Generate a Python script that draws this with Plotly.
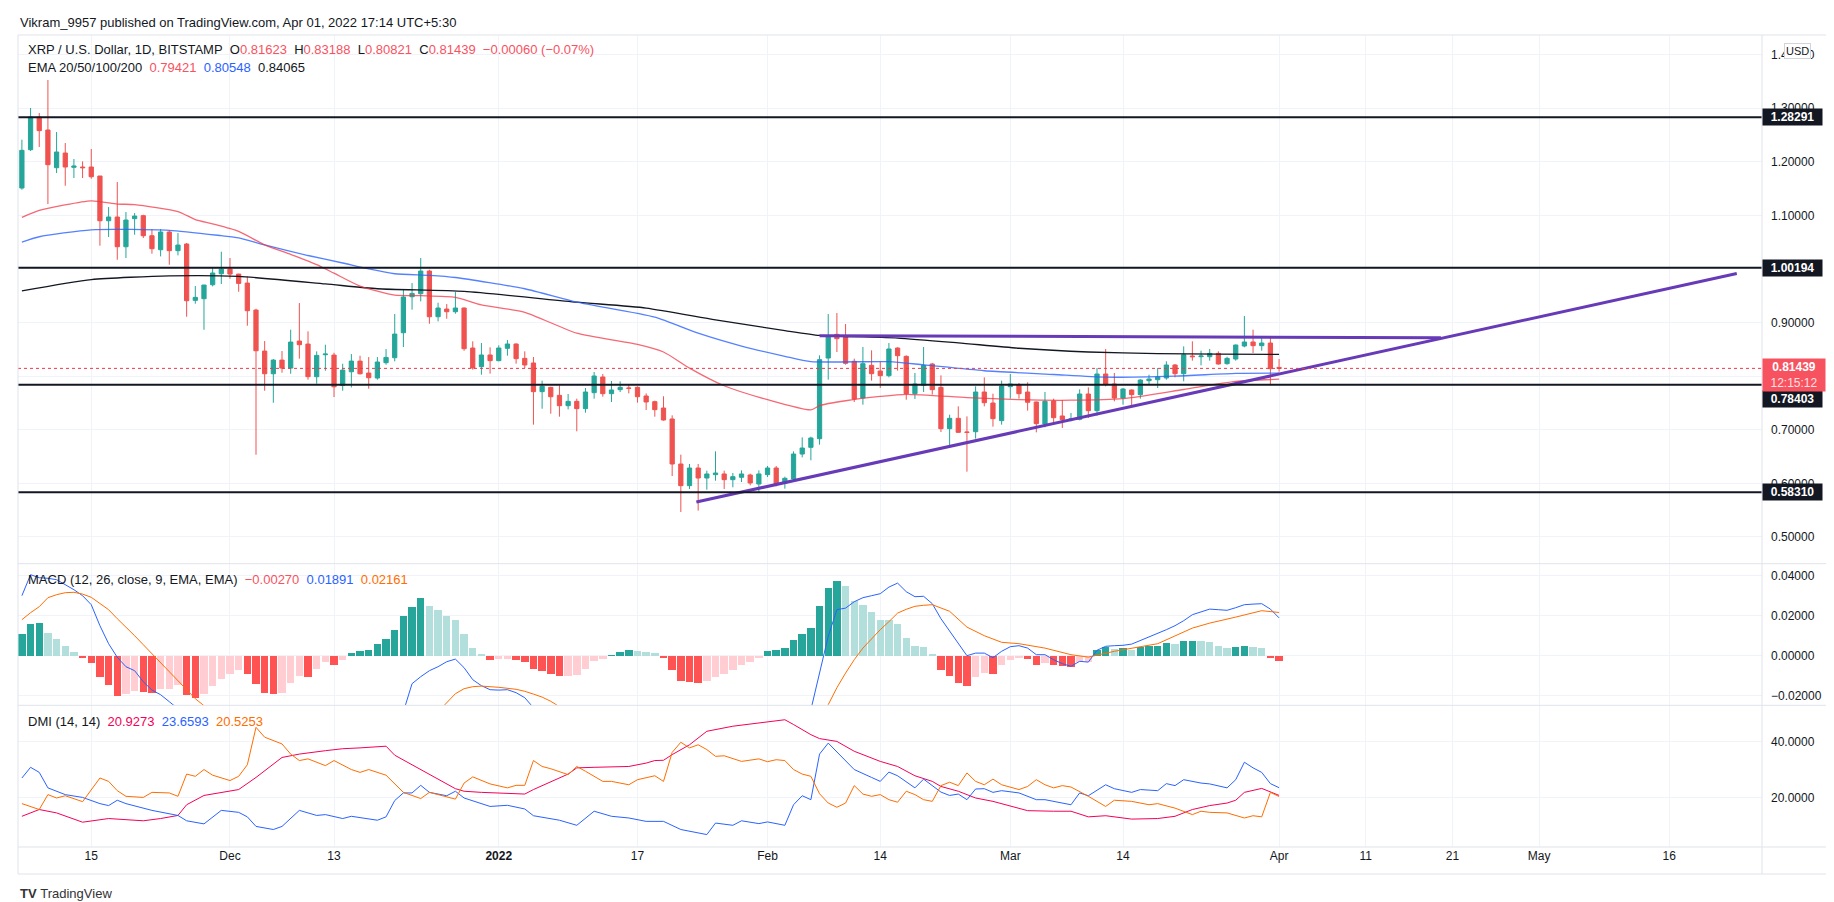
"""XRP / USD daily candles with EMA, MACD and DMI panes, styled like a TradingView snapshot."""

import pandas as pd
import plotly.graph_objects as go
from plotly.subplots import make_subplots

# ---- daily candles, 2021-11-07 .. 2022-04-01 ----
first_day = "2021-11-07"

opens = [
    1.1509, 1.2224, 1.2834, 1.2591, 1.1888, 1.2162, 1.1895, 1.1901, 1.1901, 1.1733,
    1.0899, 1.0968, 1.0414, 1.0937, 1.0993, 1.0619, 1.0358, 1.0688, 1.0340, 1.0464,
    0.9413, 0.9444, 0.9705, 0.9910, 0.9997, 0.9904, 0.9736, 0.9232, 0.8467, 0.8044,
    0.8299, 0.8150, 0.8654, 0.8598, 0.7989, 0.8399, 0.8392, 0.7826, 0.8081, 0.8280,
    0.8057, 0.7964, 0.8250, 0.8343, 0.8809, 0.9481, 0.9537, 0.9960, 0.9108, 0.9251,
    0.9201, 0.9270, 0.8524, 0.8176, 0.8394, 0.8288, 0.8518, 0.8599, 0.8331, 0.8245,
    0.7710, 0.7790, 0.7641, 0.7448, 0.7529, 0.7393, 0.7691, 0.7983, 0.7672, 0.7747,
    0.7778, 0.7790, 0.7629, 0.7523, 0.7405, 0.7200, 0.6360, 0.5956, 0.6285, 0.6099,
    0.6161, 0.6174, 0.6068, 0.6112, 0.6155, 0.5987, 0.6161, 0.6285, 0.5999, 0.6080,
    0.6546, 0.6671, 0.6832, 0.8337, 0.8779, 0.8729, 0.8276, 0.7592, 0.8201, 0.8095,
    0.8008, 0.8524, 0.8369, 0.7672, 0.7828, 0.8226, 0.7790, 0.7019, 0.7212, 0.6957,
    0.6963, 0.7703, 0.7498, 0.7169, 0.7803, 0.7840, 0.7703, 0.7517, 0.7106, 0.7535,
    0.7256, 0.7181, 0.7193, 0.7666, 0.7355, 0.8039, 0.7853, 0.7591, 0.7741, 0.7654,
    0.7915, 0.7933, 0.7965, 0.8207, 0.8045, 0.8375, 0.8362, 0.8362, 0.8424, 0.8232,
    0.8319, 0.8561, 0.8636, 0.8568, 0.8617, 0.81623,
]
highs = [
    1.2411, 1.3002, 1.2908, 1.3524, 1.2554, 1.2348, 1.2050, 1.2006, 1.2237, 1.1733,
    1.1154, 1.1621, 1.1061, 1.1042, 1.1011, 1.0744, 1.0744, 1.0719, 1.0669, 1.0483,
    0.9680, 0.9699, 1.0028, 1.0321, 1.0203, 0.9904, 0.9860, 0.9257, 0.8654, 0.8318,
    0.8467, 0.8866, 0.9364, 0.8835, 0.8461, 0.8586, 0.8436, 0.8231, 0.8411, 0.8380,
    0.8355, 0.8355, 0.8504, 0.9158, 0.9612, 0.9736, 1.0203, 0.9985, 0.9369, 0.9344,
    0.9568, 0.9280, 0.8649, 0.8617, 0.8537, 0.8574, 0.8673, 0.8610, 0.8462, 0.8356,
    0.7915, 0.7800, 0.7827, 0.7666, 0.7579, 0.7778, 0.8077, 0.8039, 0.7909, 0.7903,
    0.7853, 0.7809, 0.7678, 0.7542, 0.7623, 0.7268, 0.6534, 0.6360, 0.6360, 0.6236,
    0.6596, 0.6236, 0.6192, 0.6242, 0.6180, 0.6242, 0.6323, 0.6323, 0.6124, 0.6596,
    0.6857, 0.6870, 0.8387, 0.9158, 0.9177, 0.8972, 0.8325, 0.8543, 0.8481, 0.8276,
    0.8617, 0.8537, 0.8387, 0.8058, 0.8543, 0.8245, 0.8014, 0.7280, 0.7436, 0.7249,
    0.7809, 0.7977, 0.7672, 0.7915, 0.8039, 0.7871, 0.7884, 0.7525, 0.7703, 0.7579,
    0.7554, 0.7312, 0.7753, 0.7790, 0.8151, 0.8506, 0.8058, 0.7778, 0.7750, 0.7940,
    0.8027, 0.8151, 0.8276, 0.8226, 0.8555, 0.8649, 0.8474, 0.8506, 0.8462, 0.8362,
    0.8590, 0.9121, 0.8866, 0.8723, 0.8723, 0.83188,
]
lows = [
    1.1478, 1.2200, 1.2274, 1.1210, 1.1789, 1.1552, 1.1695, 1.1695, 1.1683, 1.0433,
    1.0595, 1.0171, 1.0202, 1.0638, 1.0576, 1.0284, 1.0234, 1.0078, 1.0253, 0.9108,
    0.9351, 0.8865, 0.9674, 0.9718, 0.9817, 0.9574, 0.8940, 0.6533, 0.7727, 0.7503,
    0.8063, 0.8044, 0.8325, 0.7933, 0.7858, 0.8100, 0.7609, 0.7727, 0.7789, 0.8030,
    0.7765, 0.7933, 0.8213, 0.8275, 0.8542, 0.9239, 0.9394, 0.8977, 0.9021, 0.9070,
    0.9164, 0.8473, 0.8120, 0.8027, 0.8046, 0.8276, 0.8381, 0.8232, 0.8151, 0.7094,
    0.7392, 0.7299, 0.7243, 0.7380, 0.6970, 0.7318, 0.7579, 0.7616, 0.7517, 0.7703,
    0.7678, 0.7505, 0.7368, 0.7243, 0.7169, 0.6136, 0.5465, 0.5894, 0.5490, 0.5881,
    0.6049, 0.5894, 0.5925, 0.6024, 0.5962, 0.5819, 0.6118, 0.5943, 0.5900, 0.6049,
    0.6484, 0.6429, 0.6721, 0.7934, 0.8450, 0.8213, 0.7517, 0.7467, 0.7915, 0.7778,
    0.7977, 0.8101, 0.7560, 0.7573, 0.7703, 0.7654, 0.6957, 0.6708, 0.6940, 0.6217,
    0.6833, 0.7436, 0.7057, 0.7094, 0.7579, 0.7579, 0.7355, 0.6951, 0.7044, 0.7106,
    0.7032, 0.7156, 0.7175, 0.7218, 0.7262, 0.7809, 0.7529, 0.7467, 0.7436, 0.7579,
    0.7840, 0.7778, 0.7933, 0.7977, 0.7903, 0.8288, 0.8201, 0.8288, 0.8213, 0.8213,
    0.8288, 0.8537, 0.8431, 0.8474, 0.7828, 0.80821,
]
closes = [
    1.2212, 1.2834, 1.2579, 1.1944, 1.2181, 1.1901, 1.1920, 1.1888, 1.1720, 1.0899,
    1.0968, 1.0414, 1.0912, 1.0986, 1.0619, 1.0377, 1.0688, 1.0340, 1.0445, 0.9407,
    0.9469, 0.9699, 0.9923, 0.9997, 0.9904, 0.9730, 0.9220, 0.8473, 0.8044, 0.8299,
    0.8150, 0.8635, 0.8586, 0.7989, 0.8386, 0.8411, 0.7801, 0.8112, 0.8280, 0.8044,
    0.7970, 0.8263, 0.8349, 0.8784, 0.9475, 0.9543, 0.9960, 0.9108, 0.9270, 0.9201,
    0.9270, 0.8511, 0.8151, 0.8394, 0.8288, 0.8524, 0.8599, 0.8325, 0.8207, 0.7710,
    0.7809, 0.7616, 0.7448, 0.7529, 0.7393, 0.7703, 0.8002, 0.7672, 0.7741, 0.7790,
    0.7772, 0.7616, 0.7517, 0.7374, 0.7181, 0.6360, 0.5956, 0.6285, 0.6099, 0.6174,
    0.6192, 0.6068, 0.6124, 0.6174, 0.6006, 0.6174, 0.6285, 0.5975, 0.6093, 0.6546,
    0.6658, 0.6845, 0.8307, 0.8742, 0.8698, 0.8238, 0.7573, 0.8232, 0.8045, 0.8008,
    0.8506, 0.8381, 0.7672, 0.7853, 0.8201, 0.7747, 0.7019, 0.7212, 0.6951, 0.6951,
    0.7703, 0.7504, 0.7206, 0.7815, 0.7853, 0.7672, 0.7511, 0.7113, 0.7529, 0.7224,
    0.7187, 0.7200, 0.7666, 0.7355, 0.8039, 0.7853, 0.7591, 0.7759, 0.7654, 0.7927,
    0.7946, 0.7983, 0.8207, 0.8045, 0.8400, 0.8362, 0.8375, 0.8424, 0.8226, 0.8331,
    0.8580, 0.8636, 0.8568, 0.8617, 0.8139, 0.81439,
]

# MACD histogram, one bar per candle
macd_hist = [
    0.0108, 0.0158, 0.0163, 0.0113, 0.0087, 0.0048, 0.0018, -0.0010, -0.0037, -0.0107,
    -0.0145, -0.0200, -0.0192, -0.0177, -0.0182, -0.0183, -0.0167, -0.0167, -0.0147, -0.0195,
    -0.0212, -0.0192, -0.0148, -0.0117, -0.0090, -0.0072, -0.0090, -0.0140, -0.0187, -0.0190,
    -0.0185, -0.0135, -0.0100, -0.0103, -0.0065, -0.0032, -0.0045, -0.0020, 0.0013, 0.0023,
    0.0028, 0.0060, 0.0083, 0.0128, 0.0200, 0.0243, 0.0290, 0.0250, 0.0228, 0.0202,
    0.0178, 0.0108, 0.0038, 0.0010, -0.0020, -0.0013, -0.0013, -0.0020, -0.0032, -0.0067,
    -0.0073, -0.0090, -0.0102, -0.0098, -0.0095, -0.0063, -0.0025, -0.0015, 0.0003, 0.0020,
    0.0028, 0.0027, 0.0022, 0.0015, -0.0012, -0.0070, -0.0125, -0.0130, -0.0135, -0.0125,
    -0.0105, -0.0090, -0.0070, -0.0045, -0.0030, -0.0010, 0.0023, 0.0028, 0.0038, 0.0078,
    0.0110, 0.0138, 0.0248, 0.0338, 0.0373, 0.0348, 0.0273, 0.0253, 0.0218, 0.0178,
    0.0178, 0.0158, 0.0088, 0.0050, 0.0043, 0.0008, -0.0070, -0.0100, -0.0135, -0.0150,
    -0.0105, -0.0085, -0.0090, -0.0045, -0.0020, -0.0010, -0.0015, -0.0045, -0.0035, -0.0045,
    -0.0050, -0.0055, -0.0030, -0.0030, 0.0028, 0.0043, 0.0033, 0.0038, 0.0028, 0.0043,
    0.0048, 0.0052, 0.0063, 0.0058, 0.0073, 0.0075, 0.0073, 0.0068, 0.0048, 0.0038,
    0.0043, 0.0048, 0.0043, 0.0038, -0.0007, -0.0027,
]

# moving averages
ema20 = [
    ("2021-11-07", 1.096), ("2021-11-09", 1.109), ("2021-11-15", 1.127), ("2021-11-18", 1.121),
    ("2021-11-20", 1.120), ("2021-11-25", 1.107), ("2021-11-27", 1.092), ("2021-11-29", 1.084),
    ("2021-12-02", 1.070), ("2021-12-05", 1.045), ("2021-12-08", 1.027), ("2021-12-11", 1.008),
    ("2021-12-13", 0.992), ("2021-12-16", 0.968), ("2021-12-20", 0.951), ("2021-12-23", 0.950),
    ("2021-12-27", 0.947), ("2021-12-30", 0.933), ("2022-01-04", 0.919), ("2022-01-10", 0.880),
    ("2022-01-17", 0.859), ("2022-01-20", 0.845), ("2022-01-23", 0.815), ("2022-01-27", 0.782),
    ("2022-02-01", 0.756), ("2022-02-06", 0.737), ("2022-02-07", 0.745), ("2022-02-10", 0.754),
    ("2022-02-14", 0.762), ("2022-02-17", 0.766), ("2022-02-24", 0.760), ("2022-03-02", 0.756),
    ("2022-03-08", 0.755), ("2022-03-14", 0.758), ("2022-03-21", 0.775), ("2022-03-27", 0.790),
    ("2022-04-01", 0.79421),
]
ema50 = [
    ("2021-11-07", 1.050), ("2021-11-09", 1.060), ("2021-11-15", 1.073), ("2021-11-24", 1.072),
    ("2021-11-30", 1.062), ("2021-12-02", 1.058), ("2021-12-05", 1.045), ("2021-12-10", 1.025),
    ("2021-12-14", 1.011), ("2021-12-17", 1.000), ("2021-12-20", 0.991), ("2021-12-24", 0.988),
    ("2021-12-27", 0.984), ("2022-01-04", 0.963), ("2022-01-10", 0.938), ("2022-01-19", 0.910),
    ("2022-01-24", 0.880), ("2022-01-29", 0.856), ("2022-02-03", 0.837), ("2022-02-06", 0.827),
    ("2022-02-15", 0.827), ("2022-02-19", 0.821), ("2022-02-26", 0.810), ("2022-03-06", 0.803),
    ("2022-03-12", 0.798), ("2022-03-20", 0.800), ("2022-03-27", 0.805), ("2022-04-01", 0.80548),
]
ema200 = [
    ("2021-11-07", 0.959), ("2021-11-15", 0.980), ("2021-11-24", 0.987), ("2021-12-02", 0.986),
    ("2021-12-12", 0.972), ("2021-12-18", 0.963), ("2021-12-28", 0.958), ("2022-01-10", 0.938),
    ("2022-01-18", 0.927), ("2022-01-26", 0.905), ("2022-02-03", 0.885), ("2022-02-07", 0.876),
    ("2022-02-16", 0.871), ("2022-02-23", 0.862), ("2022-03-02", 0.852), ("2022-03-10", 0.845),
    ("2022-03-18", 0.842), ("2022-03-25", 0.841), ("2022-04-01", 0.84065),
]

# MACD and signal lines (the off-pane stretches are only rough guesses)
macd_line = [
    ("2021-11-07", 0.0300), ("2021-11-08", 0.0405), ("2021-11-09", 0.0390), ("2021-11-10", 0.0387),
    ("2021-11-11", 0.0380), ("2021-11-12", 0.0355), ("2021-11-13", 0.0330), ("2021-11-14", 0.0300),
    ("2021-11-15", 0.0255), ("2021-11-16", 0.0150), ("2021-11-17", 0.0060), ("2021-11-18", -0.0008),
    ("2021-11-19", -0.0055), ("2021-11-20", -0.0075), ("2021-11-21", -0.0130), ("2021-11-22", -0.0172),
    ("2021-11-23", -0.0195), ("2021-11-24", -0.0230), ("2021-11-25", -0.0265), ("2021-11-28", -0.0350),
    ("2021-12-05", -0.0480), ("2021-12-12", -0.0520), ("2021-12-18", -0.0420), ("2021-12-20", -0.0340),
    ("2021-12-21", -0.0280), ("2021-12-22", -0.0140), ("2021-12-23", -0.0105), ("2021-12-24", -0.0075),
    ("2021-12-25", -0.0055), ("2021-12-26", -0.0030), ("2021-12-27", -0.0017), ("2021-12-28", -0.0060),
    ("2021-12-29", -0.0120), ("2021-12-30", -0.0150), ("2021-12-31", -0.0170), ("2022-01-01", -0.0172),
    ("2022-01-02", -0.0170), ("2022-01-03", -0.0185), ("2022-01-04", -0.0210), ("2022-01-05", -0.0260),
    ("2022-01-08", -0.0360), ("2022-01-14", -0.0400), ("2022-01-20", -0.0460), ("2022-01-24", -0.0600),
    ("2022-02-01", -0.0500), ("2022-02-06", -0.0270), ("2022-02-07", -0.0087), ("2022-02-08", 0.0097),
    ("2022-02-09", 0.0230), ("2022-02-10", 0.0238), ("2022-02-11", 0.0270), ("2022-02-12", 0.0290),
    ("2022-02-13", 0.0300), ("2022-02-14", 0.0310), ("2022-02-15", 0.0343), ("2022-02-16", 0.0363),
    ("2022-02-17", 0.0320), ("2022-02-18", 0.0295), ("2022-02-19", 0.0297), ("2022-02-20", 0.0260),
    ("2022-02-21", 0.0185), ("2022-02-22", 0.0125), ("2022-02-23", 0.0060), ("2022-02-24", 0.0000),
    ("2022-02-25", 0.0013), ("2022-02-26", 0.0013), ("2022-02-27", -0.0010), ("2022-02-28", 0.0022),
    ("2022-03-01", 0.0045), ("2022-03-02", 0.0050), ("2022-03-03", 0.0038), ("2022-03-04", 0.0005),
    ("2022-03-05", 0.0005), ("2022-03-06", -0.0020), ("2022-03-07", -0.0040), ("2022-03-08", -0.0053),
    ("2022-03-09", -0.0028), ("2022-03-10", -0.0032), ("2022-03-11", 0.0027), ("2022-03-12", 0.0047),
    ("2022-03-13", 0.0050), ("2022-03-14", 0.0052), ("2022-03-15", 0.0058), ("2022-03-16", 0.0075),
    ("2022-03-17", 0.0095), ("2022-03-18", 0.0113), ("2022-03-19", 0.0130), ("2022-03-20", 0.0150),
    ("2022-03-21", 0.0175), ("2022-03-22", 0.0205), ("2022-03-23", 0.0220), ("2022-03-24", 0.0233),
    ("2022-03-25", 0.0230), ("2022-03-26", 0.0227), ("2022-03-27", 0.0240), ("2022-03-28", 0.0255),
    ("2022-03-29", 0.0258), ("2022-03-30", 0.0260), ("2022-03-31", 0.0233), ("2022-04-01", 0.01891),
]
signal_line = [
    ("2021-11-07", 0.0180), ("2021-11-08", 0.0215), ("2021-11-09", 0.0245), ("2021-11-10", 0.0290),
    ("2021-11-11", 0.0305), ("2021-11-12", 0.0315), ("2021-11-13", 0.0317), ("2021-11-14", 0.0308),
    ("2021-11-15", 0.0292), ("2021-11-16", 0.0260), ("2021-11-17", 0.0230), ("2021-11-18", 0.0185),
    ("2021-11-19", 0.0145), ("2021-11-20", 0.0100), ("2021-11-21", 0.0055), ("2021-11-22", 0.0010),
    ("2021-11-23", -0.0035), ("2021-11-24", -0.0080), ("2021-11-25", -0.0125), ("2021-11-26", -0.0170),
    ("2021-11-27", -0.0215), ("2021-11-28", -0.0250), ("2021-12-05", -0.0350), ("2021-12-12", -0.0420),
    ("2021-12-19", -0.0450), ("2021-12-22", -0.0380), ("2021-12-24", -0.0325), ("2021-12-25", -0.0280),
    ("2021-12-26", -0.0235), ("2021-12-27", -0.0190), ("2021-12-28", -0.0165), ("2021-12-29", -0.0155),
    ("2021-12-30", -0.0152), ("2022-01-01", -0.0158), ("2022-01-03", -0.0168), ("2022-01-04", -0.0178),
    ("2022-01-05", -0.0192), ("2022-01-06", -0.0207), ("2022-01-07", -0.0228), ("2022-01-08", -0.0255),
    ("2022-01-14", -0.0400), ("2022-01-20", -0.0460), ("2022-01-24", -0.0470), ("2022-02-01", -0.0520),
    ("2022-02-06", -0.0440), ("2022-02-07", -0.0335), ("2022-02-08", -0.0245), ("2022-02-09", -0.0160),
    ("2022-02-10", -0.0087), ("2022-02-11", -0.0020), ("2022-02-12", 0.0038), ("2022-02-13", 0.0085),
    ("2022-02-14", 0.0130), ("2022-02-15", 0.0170), ("2022-02-16", 0.0213), ("2022-02-17", 0.0232),
    ("2022-02-18", 0.0247), ("2022-02-19", 0.0252), ("2022-02-20", 0.0255), ("2022-02-22", 0.0222),
    ("2022-02-24", 0.0143), ("2022-02-26", 0.0100), ("2022-02-28", 0.0067), ("2022-03-02", 0.0060),
    ("2022-03-05", 0.0038), ("2022-03-08", 0.0005), ("2022-03-10", -0.0007), ("2022-03-13", 0.0022),
    ("2022-03-18", 0.0060), ("2022-03-22", 0.0138), ("2022-03-24", 0.0163), ("2022-03-27", 0.0193),
    ("2022-03-30", 0.0225), ("2022-04-01", 0.02161),
]

# DMI (14, 14)
adx = [
    ("2021-11-07", 13.5), ("2021-11-09", 15.9), ("2021-11-11", 14.7), ("2021-11-14", 11.4),
    ("2021-11-17", 12.7), ("2021-11-21", 11.9), ("2021-11-23", 12.7), ("2021-11-25", 13.8),
    ("2021-11-26", 17.6), ("2021-11-28", 20.9), ("2021-12-02", 23.0), ("2021-12-04", 27.3),
    ("2021-12-07", 34.4), ("2021-12-09", 35.6), ("2021-12-12", 36.8), ("2021-12-14", 37.5),
    ("2021-12-16", 37.8), ("2021-12-19", 38.4), ("2021-12-20", 35.2), ("2021-12-22", 31.8),
    ("2021-12-23", 29.8), ("2021-12-26", 24.7), ("2021-12-27", 23.3), ("2021-12-28", 22.4),
    ("2021-12-30", 22.0), ("2022-01-04", 21.4), ("2022-01-05", 23.0), ("2022-01-09", 28.5),
    ("2022-01-10", 30.7), ("2022-01-12", 30.9), ("2022-01-16", 31.2), ("2022-01-18", 32.4),
    ("2022-01-19", 33.3), ("2022-01-20", 33.4), ("2022-01-21", 35.4), ("2022-01-23", 38.9),
    ("2022-01-25", 43.7), ("2022-01-28", 45.5), ("2022-01-31", 46.6), ("2022-02-03", 47.8),
    ("2022-02-04", 46.1), ("2022-02-06", 42.5), ("2022-02-07", 41.1), ("2022-02-09", 40.1),
    ("2022-02-11", 36.6), ("2022-02-14", 33.0), ("2022-02-16", 31.2), ("2022-02-18", 27.9),
    ("2022-02-20", 25.9), ("2022-02-21", 24.1), ("2022-02-23", 22.4), ("2022-02-25", 20.0),
    ("2022-02-27", 18.8), ("2022-03-03", 15.5), ("2022-03-06", 15.3), ("2022-03-08", 15.3),
    ("2022-03-10", 13.3), ("2022-03-12", 13.7), ("2022-03-15", 12.5), ("2022-03-18", 12.7),
    ("2022-03-20", 13.5), ("2022-03-22", 15.9), ("2022-03-24", 17.3), ("2022-03-26", 18.2),
    ("2022-03-27", 19.2), ("2022-03-28", 22.0), ("2022-03-30", 23.4), ("2022-04-01", 20.9273),
]
plus_di = [
    ("2021-11-07", 27.1), ("2021-11-08", 30.9), ("2021-11-09", 29.1), ("2021-11-10", 23.6),
    ("2021-11-12", 21.2), ("2021-11-14", 20.2), ("2021-11-16", 18.0), ("2021-11-17", 17.3),
    ("2021-11-18", 19.2), ("2021-11-19", 18.0), ("2021-11-22", 15.6), ("2021-11-25", 13.8),
    ("2021-11-26", 11.9), ("2021-11-28", 10.8), ("2021-11-30", 15.6), ("2021-12-02", 14.9),
    ("2021-12-03", 13.3), ("2021-12-04", 9.9), ("2021-12-06", 8.8), ("2021-12-07", 9.9),
    ("2021-12-09", 15.6), ("2021-12-11", 13.8), ("2021-12-12", 14.1), ("2021-12-14", 12.7),
    ("2021-12-15", 13.5), ("2021-12-18", 12.1), ("2021-12-19", 13.3), ("2021-12-20", 19.1),
    ("2021-12-21", 21.8), ("2021-12-22", 21.8), ("2021-12-23", 24.5), ("2021-12-24", 22.0),
    ("2021-12-26", 20.8), ("2021-12-27", 22.4), ("2021-12-28", 20.0), ("2021-12-31", 17.0),
    ("2022-01-02", 17.4), ("2022-01-04", 16.1), ("2022-01-05", 13.7), ("2022-01-08", 12.1),
    ("2022-01-10", 10.3), ("2022-01-12", 15.3), ("2022-01-14", 13.5), ("2022-01-16", 12.9),
    ("2022-01-18", 11.7), ("2022-01-20", 11.7), ("2022-01-22", 8.8), ("2022-01-25", 7.0),
    ("2022-01-26", 11.1), ("2022-01-28", 10.3), ("2022-01-29", 11.9), ("2022-01-31", 10.9),
    ("2022-02-01", 11.5), ("2022-02-03", 10.3), ("2022-02-04", 17.6), ("2022-02-05", 20.8),
    ("2022-02-06", 19.4), ("2022-02-07", 35.6), ("2022-02-08", 39.5), ("2022-02-11", 30.1),
    ("2022-02-13", 27.3), ("2022-02-14", 25.9), ("2022-02-15", 29.2), ("2022-02-16", 27.9),
    ("2022-02-18", 23.6), ("2022-02-19", 26.7), ("2022-02-21", 22.1), ("2022-02-22", 20.9),
    ("2022-02-23", 21.4), ("2022-02-24", 19.4), ("2022-02-25", 23.2), ("2022-02-26", 23.3),
    ("2022-02-27", 22.0), ("2022-02-28", 22.6), ("2022-03-02", 21.8), ("2022-03-04", 19.4),
    ("2022-03-05", 19.4), ("2022-03-08", 17.6), ("2022-03-09", 21.8), ("2022-03-10", 20.8),
    ("2022-03-12", 24.7), ("2022-03-13", 23.3), ("2022-03-15", 22.0), ("2022-03-16", 23.0),
    ("2022-03-18", 22.6), ("2022-03-19", 25.1), ("2022-03-20", 24.4), ("2022-03-21", 26.5),
    ("2022-03-23", 25.3), ("2022-03-24", 25.0), ("2022-03-26", 23.6), ("2022-03-27", 26.5),
    ("2022-03-28", 32.7), ("2022-03-29", 30.7), ("2022-03-30", 29.1), ("2022-03-31", 25.1),
    ("2022-04-01", 23.6593),
]
minus_di = [
    ("2021-11-07", 18.0), ("2021-11-09", 15.9), ("2021-11-10", 21.2), ("2021-11-11", 20.0),
    ("2021-11-12", 20.8), ("2021-11-14", 18.7), ("2021-11-16", 27.1), ("2021-11-17", 25.9),
    ("2021-11-18", 22.6), ("2021-11-19", 20.6), ("2021-11-21", 20.2), ("2021-11-22", 22.0),
    ("2021-11-24", 21.8), ("2021-11-25", 20.6), ("2021-11-26", 28.5), ("2021-11-27", 27.7),
    ("2021-11-28", 30.1), ("2021-11-29", 28.1), ("2021-12-01", 26.2), ("2021-12-02", 27.7),
    ("2021-12-03", 31.8), ("2021-12-04", 45.1), ("2021-12-05", 41.6), ("2021-12-07", 39.2),
    ("2021-12-08", 35.6), ("2021-12-09", 33.3), ("2021-12-10", 33.9), ("2021-12-12", 31.5),
    ("2021-12-13", 33.3), ("2021-12-15", 30.1), ("2021-12-16", 29.1), ("2021-12-17", 30.1),
    ("2021-12-19", 28.1), ("2021-12-21", 22.0), ("2021-12-23", 19.8), ("2021-12-24", 22.0),
    ("2021-12-27", 19.6), ("2021-12-28", 25.3), ("2021-12-29", 27.5), ("2021-12-31", 25.0),
    ("2022-01-02", 23.6), ("2022-01-03", 24.5), ("2022-01-04", 24.5), ("2022-01-05", 33.3),
    ("2022-01-06", 31.2), ("2022-01-07", 30.4), ("2022-01-09", 28.3), ("2022-01-10", 31.2),
    ("2022-01-11", 29.5), ("2022-01-13", 25.9), ("2022-01-14", 25.9), ("2022-01-16", 24.7),
    ("2022-01-17", 26.5), ("2022-01-19", 27.9), ("2022-01-20", 25.9), ("2022-01-21", 36.2),
    ("2022-01-22", 39.8), ("2022-01-23", 37.8), ("2022-01-24", 38.9), ("2022-01-25", 37.2),
    ("2022-01-26", 34.8), ("2022-01-27", 35.0), ("2022-01-29", 33.0), ("2022-01-31", 33.9),
    ("2022-02-01", 32.9), ("2022-02-02", 33.6), ("2022-02-03", 33.3), ("2022-02-04", 30.1),
    ("2022-02-05", 28.5), ("2022-02-06", 27.7), ("2022-02-07", 21.5), ("2022-02-08", 18.2),
    ("2022-02-09", 16.7), ("2022-02-10", 18.2), ("2022-02-11", 24.4), ("2022-02-12", 21.4),
    ("2022-02-13", 20.6), ("2022-02-14", 21.2), ("2022-02-15", 19.4), ("2022-02-16", 18.5),
    ("2022-02-17", 22.4), ("2022-02-18", 21.2), ("2022-02-19", 19.4), ("2022-02-20", 18.8),
    ("2022-02-21", 24.4), ("2022-02-22", 25.6), ("2022-02-23", 24.4), ("2022-02-24", 28.9),
    ("2022-02-25", 25.9), ("2022-02-26", 24.7), ("2022-02-27", 26.7), ("2022-02-28", 24.7),
    ("2022-03-02", 23.0), ("2022-03-03", 24.1), ("2022-03-04", 26.5), ("2022-03-05", 24.7),
    ("2022-03-06", 23.6), ("2022-03-07", 24.4), ("2022-03-08", 23.9), ("2022-03-10", 20.6),
    ("2022-03-12", 17.0), ("2022-03-13", 19.2), ("2022-03-15", 18.8), ("2022-03-17", 17.6),
    ("2022-03-18", 18.0), ("2022-03-20", 16.4), ("2022-03-22", 14.1), ("2022-03-23", 15.3),
    ("2022-03-24", 14.9), ("2022-03-26", 14.7), ("2022-03-28", 12.9), ("2022-03-29", 13.7),
    ("2022-03-30", 13.3), ("2022-03-31", 22.0), ("2022-04-01", 20.5253),
]

# drawings
levels = [1.28291, 1.00194, 0.78403, 0.58310]
last_price = 0.81439
countdown = "12:15:12"
support_line = [("2022-01-23 19:00", 0.5651), ("2022-05-23 19:00", 0.9914)]
resistance_line = [("2022-02-07", 0.8755), ("2022-04-19 16:00", 0.8715)]

tick_dates = ["2021-11-15", "2021-12-01", "2021-12-13", "2022-01-01", "2022-01-17",
              "2022-02-01", "2022-02-14", "2022-03-01", "2022-03-14", "2022-04-01",
              "2022-04-11", "2022-04-21", "2022-05-01", "2022-05-16"]
tick_text = ["15", "Dec", "13", "<b>2022</b>", "17", "Feb", "14", "Mar", "14", "Apr",
             "11", "21", "May", "16"]
# 0.80000 sits under the price labels in the snapshot, so only its grid line shows
price_ticks = [0.5, 0.6, 0.7, 0.8, 0.9, 1.0, 1.1, 1.2, 1.3, 1.4]
price_tick_text = ["0.50000", "0.60000", "0.70000", "", "0.90000", "1.00000", "1.10000",
                   "1.20000", "1.30000", "1.40000"]

# ---- page geometry (pixels) ----
W, H = 1834, 902
L, R, T, B = 10, 1754, 27, 839
PW, PH = R - L, B - T
SEP1, SEP2, AXIS_BOTTOM, FRAME_RIGHT = 555.7, 697.3, 866, 1824


def px(x):
    return (x - L) / PW


def py(y):
    return (B - y) / PH


GREEN, RED = "#26a69a", "#ef5350"
TEXT = "#131722"
GRID = "#f0f3fa"
BORDER = "#e0e3eb"
FONT = "Liberation Sans, Arial, sans-serif"
NB = "\u00a0"

dates = pd.date_range(first_day, periods=len(opens), freq="D")

fig = make_subplots(rows=3, cols=1, shared_xaxes=True, vertical_spacing=0)


def unzip(pairs):
    return [p[0] for p in pairs], [p[1] for p in pairs]


# price pane
for series, color, width in [(ema200, "#131722", 1.3), (ema50, "rgba(41,98,255,0.8)", 1.3),
                             (ema20, "rgba(242,54,69,0.75)", 1.3)]:
    xs, ys = unzip(series)
    fig.add_trace(go.Scatter(x=xs, y=ys, mode="lines", line=dict(color=color, width=width,
                                                                  shape="spline", smoothing=0.6)),
                  row=1, col=1)

fig.add_trace(go.Candlestick(
    x=dates, open=opens, high=highs, low=lows, close=closes, whiskerwidth=0,
    increasing=dict(line=dict(color=GREEN, width=1), fillcolor=GREEN),
    decreasing=dict(line=dict(color=RED, width=1), fillcolor=RED),
), row=1, col=1)

for line in (support_line, resistance_line):
    xs, ys = unzip(line)
    fig.add_trace(go.Scatter(x=xs, y=ys, mode="lines", line=dict(color="#673ab7", width=3)),
                  row=1, col=1)

# MACD pane
bar_colors = []
for i, v in enumerate(macd_hist):
    prev = macd_hist[i - 1] if i else 0
    if v >= 0:
        bar_colors.append("#26a69a" if v > prev else "#b2dfdb")
    else:
        bar_colors.append("#ff5252" if v < prev else "#ffcdd2")
fig.add_trace(go.Bar(x=dates, y=macd_hist, marker=dict(color=bar_colors, line=dict(width=0)),
                     width=0.86 * 86400000), row=2, col=1)
for series, color in [(macd_line, "#2962ff"), (signal_line, "#ff6d00")]:
    xs, ys = unzip(series)
    fig.add_trace(go.Scatter(x=xs, y=ys, mode="lines", line=dict(color=color, width=1)),
                  row=2, col=1)

# DMI pane
for series, color in [(adx, "#f50057"), (plus_di, "#2962ff"), (minus_di, "#ff6d00")]:
    xs, ys = unzip(series)
    fig.add_trace(go.Scatter(x=xs, y=ys, mode="lines", line=dict(color=color, width=1)),
                  row=3, col=1)

axis_font = dict(family=FONT, size=12, color=TEXT)
fig.update_xaxes(range=["2021-11-06 13:12", "2022-05-26 16:48"], tickvals=tick_dates,
                 ticktext=tick_text, showgrid=True, gridcolor=GRID, gridwidth=1,
                 showline=False, zeroline=False, ticks="", tickfont=axis_font,
                 rangeslider_visible=False)

y_common = dict(side="right", showgrid=True, gridcolor=GRID, zeroline=False, showline=False,
                ticks="", tickfont=axis_font, ticklabelstandoff=8)
fig.update_layout(
    width=W, height=H,
    margin=dict(l=L, r=W - R, t=T, b=H - B),
    paper_bgcolor="white", plot_bgcolor="white",
    showlegend=False, hovermode=False, bargap=0,
    yaxis=dict(domain=[py(SEP1), 1], range=[0.45, 1.4364],
               tickvals=price_ticks, ticktext=price_tick_text, **y_common),
    yaxis2=dict(domain=[py(SEP2), py(SEP1)], range=[-0.0248, 0.046],
                tickvals=[-0.02, 0, 0.02, 0.04], tickformat=".5f", **y_common),
    yaxis3=dict(domain=[0, py(SEP2)], range=[2.59, 52.93], tickvals=[20, 40],
                tickformat=".4f", **y_common),
)

# horizontal levels and the current price line
shapes = []
for lv in levels:
    shapes.append(dict(type="line", xref="paper", yref="y", x0=0, x1=1, y0=lv, y1=lv,
                       line=dict(color=TEXT, width=2)))
shapes.append(dict(type="line", xref="paper", yref="y", x0=0, x1=1, y0=last_price, y1=last_price,
                   line=dict(color="#f23645", width=1, dash="dot")))
# chart frame and pane separators
frame = dict(color=BORDER, width=1)
shapes += [
    dict(type="rect", xref="paper", yref="paper", x0=0, x1=px(FRAME_RIGHT), y0=py(AXIS_BOTTOM),
         y1=1, line=frame),
    dict(type="line", xref="paper", yref="paper", x0=1, x1=1, y0=py(AXIS_BOTTOM), y1=1, line=frame),
    dict(type="line", xref="paper", yref="paper", x0=0, x1=px(FRAME_RIGHT), y0=py(SEP1), y1=py(SEP1),
         line=frame),
    dict(type="line", xref="paper", yref="paper", x0=0, x1=px(FRAME_RIGHT), y0=py(SEP2), y1=py(SEP2),
         line=frame),
    dict(type="line", xref="paper", yref="paper", x0=0, x1=px(FRAME_RIGHT), y0=0, y1=0, line=frame),
]
fig.update_layout(shapes=shapes)


def span(text, color):
    return f"<span style='color:{color}'>{text}</span>"


legend_red = "#f7525f"
row1 = (f"XRP / U.S. Dollar, 1D, BITSTAMP{NB * 2}"
        f"O{span(f'{opens[-1]:.5f}', legend_red)}{NB * 2}"
        f"H{span(f'{highs[-1]:.5f}', legend_red)}{NB * 2}"
        f"L{span(f'{lows[-1]:.5f}', legend_red)}{NB * 2}"
        f"C{span(f'{closes[-1]:.5f}', legend_red)}{NB * 2}"
        f"{span('−0.00060 (−0.07%)', legend_red)}")
row2 = (f"EMA 20/50/100/200{NB * 2}{span(f'{ema20[-1][1]:.5f}', legend_red)}{NB * 2}"
        f"{span(f'{ema50[-1][1]:.5f}', '#2962ff')}{NB * 2}{span(f'{ema200[-1][1]:.5f}', TEXT)}")
row_macd = (f"MACD (12, 26, close, 9, EMA, EMA){NB * 2}"
            f"{span(f'{macd_hist[-1]:.5f}'.replace('-', '−'), legend_red)}{NB * 2}"
            f"{span(f'{macd_line[-1][1]:.5f}', '#2962ff')}{NB * 2}"
            f"{span(f'{signal_line[-1][1]:.5f}', '#ff6d00')}")
row_dmi = (f"DMI (14, 14){NB * 2}{span(f'{adx[-1][1]:.4f}', '#f50057')}{NB * 2}"
           f"{span(f'{plus_di[-1][1]:.4f}', '#2962ff')}{NB * 2}"
           f"{span(f'{minus_di[-1][1]:.4f}', '#ff6d00')}")

anns = []


def text_at(x, y, text, size=13, color=TEXT):
    anns.append(dict(xref="paper", yref="paper", x=px(x), y=py(y), text=text, showarrow=False,
                     xanchor="left", yanchor="middle", font=dict(family=FONT, size=size, color=color)))


text_at(10, 15, "Vikram_9957 published on TradingView.com, Apr 01, 2022 17:14 UTC+5:30", 13)
text_at(18, 42, row1, 13)
text_at(18, 60, row2, 13)
text_at(18, 571, row_macd, 13)
text_at(18, 713, row_dmi, 13)
text_at(10, 885, f"<b>TV</b>{NB}TradingView", 13, "#333333")

# price labels on the right axis
for lv in levels:
    shift = -14 if lv == 0.78403 else 0
    anns.append(dict(xref="paper", yref="y", x=1, y=lv, text=f"<b>{lv:.5f}</b>", showarrow=False,
                     xanchor="left", yanchor="middle", yshift=shift, bgcolor=TEXT, borderpad=1,
                     width=57, align="center", font=dict(family=FONT, size=12, color="white")))
anns.append(dict(xref="paper", yref="y", x=1, y=last_price, yshift=-7,
                 text=f"<b>{last_price:.5f}</b><br><span style='color:#ffe0e2'>{countdown}</span>",
                 showarrow=False, xanchor="left", yanchor="middle", bgcolor="#f7525f", borderpad=1,
                 width=60, align="center", font=dict(family=FONT, size=12, color="white")))
anns.append(dict(xref="paper", yref="paper", x=px(1789), y=py(43), text="USD", showarrow=False,
                 xanchor="center", yanchor="middle", bgcolor="white", bordercolor="#d1d4dc",
                 borderwidth=1, borderpad=1, font=dict(family=FONT, size=11, color=TEXT)))
fig.update_layout(annotations=anns)

fig.write_html("out.html")
